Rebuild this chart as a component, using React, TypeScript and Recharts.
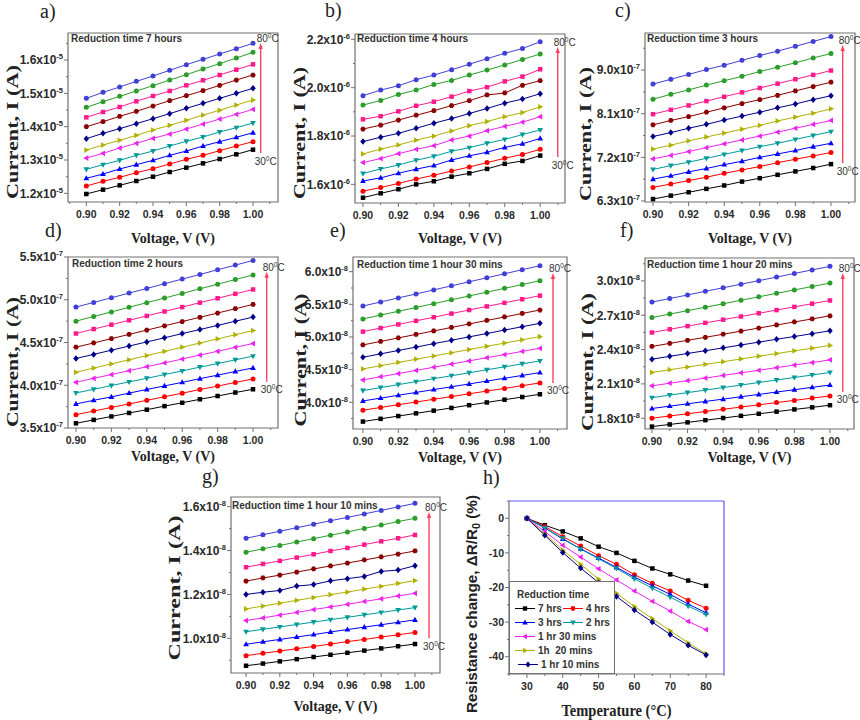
import { LineChart, Line, XAxis, YAxis, ReferenceArea, ReferenceLine, Legend } from 'recharts';

// shared axes of the I-V panels
const VOLTAGES = [0.9, 0.91, 0.92, 0.93, 0.94, 0.95, 0.96, 0.97, 0.98, 0.99, 1.0];
const TEMPS = [30, 35, 40, 45, 50, 55, 60, 65, 70, 75, 80];

// current mantissas, one row per temperature (30 -> 80 C)
const I_7H = [
  [1.198, 1.211, 1.224, 1.237, 1.250, 1.264, 1.277, 1.290, 1.303, 1.317, 1.331],
  [1.222, 1.236, 1.248, 1.262, 1.274, 1.288, 1.302, 1.314, 1.328, 1.342, 1.355],
  [1.245, 1.258, 1.273, 1.286, 1.299, 1.314, 1.327, 1.342, 1.355, 1.368, 1.382],
  [1.272, 1.286, 1.299, 1.314, 1.327, 1.342, 1.356, 1.369, 1.384, 1.397, 1.411],
  [1.306, 1.320, 1.336, 1.350, 1.365, 1.378, 1.393, 1.408, 1.423, 1.437, 1.452],
  [1.330, 1.345, 1.359, 1.374, 1.390, 1.404, 1.419, 1.435, 1.449, 1.465, 1.480],
  [1.364, 1.380, 1.394, 1.409, 1.424, 1.439, 1.455, 1.470, 1.485, 1.500, 1.515],
  [1.400, 1.415, 1.431, 1.446, 1.462, 1.478, 1.493, 1.508, 1.524, 1.540, 1.555],
  [1.428, 1.444, 1.459, 1.476, 1.492, 1.507, 1.524, 1.539, 1.555, 1.571, 1.587],
  [1.458, 1.475, 1.491, 1.507, 1.523, 1.540, 1.556, 1.573, 1.589, 1.606, 1.623],
  [1.485, 1.503, 1.519, 1.536, 1.552, 1.569, 1.586, 1.602, 1.618, 1.634, 1.650],
];
const I_4H = [
  [1.545, 1.563, 1.580, 1.600, 1.613, 1.632, 1.646, 1.664, 1.685, 1.697, 1.719],
  [1.572, 1.587, 1.604, 1.622, 1.638, 1.655, 1.672, 1.690, 1.708, 1.724, 1.745],
  [1.614, 1.627, 1.646, 1.663, 1.678, 1.701, 1.718, 1.733, 1.753, 1.768, 1.790],
  [1.645, 1.664, 1.680, 1.700, 1.716, 1.737, 1.752, 1.770, 1.786, 1.806, 1.825],
  [1.690, 1.707, 1.727, 1.745, 1.760, 1.784, 1.800, 1.822, 1.840, 1.857, 1.880],
  [1.726, 1.746, 1.763, 1.783, 1.800, 1.821, 1.843, 1.860, 1.880, 1.897, 1.921],
  [1.777, 1.795, 1.811, 1.832, 1.853, 1.872, 1.893, 1.914, 1.936, 1.953, 1.975],
  [1.829, 1.845, 1.866, 1.886, 1.905, 1.926, 1.946, 1.970, 1.978, 2.010, 2.029],
  [1.869, 1.882, 1.902, 1.925, 1.942, 1.963, 1.986, 2.002, 2.026, 2.046, 2.076],
  [1.928, 1.947, 1.972, 1.990, 2.013, 2.030, 2.052, 2.073, 2.094, 2.117, 2.139],
  [1.967, 1.990, 2.008, 2.033, 2.052, 2.074, 2.097, 2.120, 2.142, 2.162, 2.190],
];
const I_3H = [
  [6.34, 6.41, 6.48, 6.55, 6.62, 6.70, 6.77, 6.84, 6.91, 6.98, 7.06],
  [6.58, 6.65, 6.72, 6.79, 6.87, 6.94, 7.01, 7.09, 7.16, 7.23, 7.30],
  [6.75, 6.82, 6.90, 6.97, 7.05, 7.12, 7.20, 7.27, 7.34, 7.42, 7.49],
  [6.95, 7.03, 7.10, 7.18, 7.26, 7.34, 7.42, 7.49, 7.57, 7.65, 7.73],
  [7.17, 7.24, 7.32, 7.40, 7.48, 7.56, 7.64, 7.72, 7.80, 7.88, 7.96],
  [7.37, 7.45, 7.54, 7.62, 7.70, 7.78, 7.86, 7.95, 8.03, 8.11, 8.20],
  [7.63, 7.71, 7.80, 7.88, 7.97, 8.05, 8.13, 8.22, 8.30, 8.39, 8.47],
  [7.87, 7.96, 8.04, 8.13, 8.22, 8.31, 8.39, 8.48, 8.57, 8.66, 8.75],
  [8.09, 8.18, 8.27, 8.36, 8.45, 8.54, 8.63, 8.72, 8.81, 8.90, 8.99],
  [8.40, 8.50, 8.59, 8.69, 8.78, 8.87, 8.97, 9.06, 9.15, 9.25, 9.34],
  [8.71, 8.81, 8.91, 9.01, 9.10, 9.20, 9.30, 9.39, 9.49, 9.59, 9.69],
];
const I_2H = [
  [3.555, 3.595, 3.635, 3.676, 3.714, 3.756, 3.795, 3.836, 3.874, 3.915, 3.953],
  [3.656, 3.698, 3.741, 3.781, 3.824, 3.866, 3.907, 3.950, 3.990, 4.033, 4.074],
  [3.781, 3.824, 3.864, 3.908, 3.951, 3.992, 4.034, 4.077, 4.118, 4.161, 4.203],
  [3.910, 3.952, 3.997, 4.039, 4.081, 4.125, 4.168, 4.212, 4.253, 4.297, 4.340],
  [4.035, 4.081, 4.125, 4.171, 4.217, 4.261, 4.307, 4.353, 4.397, 4.443, 4.488],
  [4.152, 4.201, 4.250, 4.298, 4.347, 4.396, 4.445, 4.494, 4.542, 4.591, 4.640],
  [4.313, 4.361, 4.410, 4.458, 4.507, 4.555, 4.604, 4.652, 4.700, 4.749, 4.797],
  [4.445, 4.495, 4.545, 4.595, 4.645, 4.695, 4.745, 4.795, 4.845, 4.895, 4.945],
  [4.605, 4.657, 4.708, 4.760, 4.811, 4.863, 4.914, 4.966, 5.017, 5.069, 5.120],
  [4.750, 4.804, 4.858, 4.912, 4.966, 5.020, 5.074, 5.128, 5.182, 5.236, 5.290],
  [4.914, 4.969, 5.023, 5.078, 5.132, 5.187, 5.242, 5.296, 5.351, 5.405, 5.460],
];
const I_1H30 = [
  [3.704, 3.746, 3.788, 3.830, 3.871, 3.913, 3.955, 3.997, 4.039, 4.080, 4.122],
  [3.878, 3.920, 3.962, 4.003, 4.045, 4.087, 4.129, 4.171, 4.212, 4.254, 4.296],
  [4.020, 4.063, 4.107, 4.150, 4.194, 4.237, 4.280, 4.324, 4.367, 4.411, 4.454],
  [4.179, 4.224, 4.270, 4.315, 4.361, 4.406, 4.451, 4.497, 4.542, 4.588, 4.633],
  [4.342, 4.391, 4.439, 4.488, 4.536, 4.585, 4.633, 4.682, 4.730, 4.779, 4.827],
  [4.510, 4.560, 4.609, 4.659, 4.708, 4.758, 4.807, 4.857, 4.906, 4.956, 5.005],
  [4.689, 4.741, 4.793, 4.845, 4.897, 4.949, 5.001, 5.053, 5.105, 5.157, 5.209],
  [4.878, 4.932, 4.985, 5.039, 5.092, 5.146, 5.199, 5.253, 5.306, 5.360, 5.413],
  [5.082, 5.137, 5.192, 5.247, 5.302, 5.358, 5.413, 5.468, 5.523, 5.578, 5.633],
  [5.276, 5.335, 5.393, 5.452, 5.510, 5.569, 5.628, 5.686, 5.745, 5.803, 5.862],
  [5.474, 5.536, 5.598, 5.659, 5.721, 5.783, 5.845, 5.907, 5.968, 6.030, 6.092],
];
const I_1H20 = [
  [1.727, 1.746, 1.764, 1.783, 1.802, 1.821, 1.839, 1.858, 1.877, 1.895, 1.914],
  [1.800, 1.820, 1.839, 1.859, 1.878, 1.898, 1.917, 1.937, 1.956, 1.976, 1.995],
  [1.885, 1.906, 1.926, 1.947, 1.967, 1.988, 2.008, 2.029, 2.049, 2.070, 2.090],
  [1.980, 2.002, 2.024, 2.046, 2.068, 2.090, 2.112, 2.134, 2.156, 2.178, 2.200],
  [2.083, 2.106, 2.128, 2.151, 2.174, 2.197, 2.219, 2.242, 2.265, 2.287, 2.310],
  [2.200, 2.224, 2.247, 2.271, 2.294, 2.318, 2.342, 2.365, 2.389, 2.412, 2.436],
  [2.316, 2.341, 2.366, 2.390, 2.415, 2.440, 2.465, 2.490, 2.514, 2.539, 2.564],
  [2.427, 2.454, 2.481, 2.507, 2.534, 2.561, 2.588, 2.615, 2.641, 2.668, 2.695],
  [2.549, 2.577, 2.605, 2.633, 2.661, 2.689, 2.717, 2.745, 2.773, 2.801, 2.829],
  [2.680, 2.710, 2.740, 2.770, 2.800, 2.831, 2.861, 2.891, 2.921, 2.951, 2.981],
  [2.815, 2.846, 2.877, 2.909, 2.940, 2.971, 3.002, 3.033, 3.065, 3.096, 3.127],
];
const I_1H10 = [
  [0.875, 0.885, 0.895, 0.905, 0.915, 0.925, 0.934, 0.944, 0.954, 0.964, 0.974],
  [0.921, 0.932, 0.942, 0.953, 0.963, 0.974, 0.985, 0.995, 1.006, 1.016, 1.027],
  [0.973, 0.984, 0.995, 1.006, 1.017, 1.029, 1.040, 1.051, 1.062, 1.073, 1.084],
  [1.030, 1.041, 1.052, 1.063, 1.074, 1.085, 1.096, 1.107, 1.118, 1.129, 1.140],
  [1.081, 1.093, 1.106, 1.118, 1.131, 1.143, 1.155, 1.168, 1.180, 1.193, 1.205],
  [1.134, 1.147, 1.160, 1.173, 1.186, 1.199, 1.211, 1.224, 1.237, 1.250, 1.263],
  [1.200, 1.210, 1.218, 1.238, 1.245, 1.262, 1.272, 1.282, 1.305, 1.311, 1.331],
  [1.261, 1.275, 1.288, 1.302, 1.316, 1.330, 1.343, 1.357, 1.371, 1.384, 1.398],
  [1.324, 1.339, 1.353, 1.368, 1.383, 1.398, 1.412, 1.427, 1.442, 1.456, 1.471],
  [1.392, 1.408, 1.423, 1.439, 1.454, 1.470, 1.485, 1.501, 1.516, 1.532, 1.547],
  [1.456, 1.472, 1.488, 1.504, 1.520, 1.536, 1.551, 1.567, 1.583, 1.599, 1.615],
];

// panel h: resistance change (%) vs temperature
const R_TIMES = ['7 hrs', '4 hrs', '3 hrs', '2 hrs', '1 hr 30 mins', '1h  20 mins', '1 hr 10 mins'];
const R_7H = [0, -2.0, -3.8, -5.8, -8.2, -10.0, -12.3, -14.5, -16.2, -18.0, -19.5];
const R_4H = [0, -2.4, -5.3, -8.0, -10.8, -13.3, -16.3, -18.8, -21.0, -23.7, -26.0];
const R_3H = [0, -2.8, -6.0, -8.8, -11.5, -14.2, -17.0, -19.5, -22.0, -24.8, -27.3];
const R_2H = [0, -2.8, -5.8, -8.9, -11.7, -14.5, -17.5, -20.2, -22.8, -25.4, -27.8];
const R_1H30 = [0, -3.8, -7.8, -11.2, -14.6, -17.8, -21.0, -24.0, -26.8, -29.8, -32.2];
const R_1H20 = [0, -4.5, -9.2, -13.3, -17.6, -21.7, -25.5, -29.0, -32.5, -36.0, -39.2];
const R_1H10 = [0, -4.9, -9.9, -14.4, -18.6, -22.6, -26.5, -30.0, -33.6, -36.7, -39.5];
const R_SERIES = [R_7H, R_4H, R_3H, R_2H, R_1H30, R_1H20, R_1H10];

const COLORS = ['#000000', '#ff0000', '#0000ff', '#009a9a', '#ee22ee', '#b0b000', '#000088', '#8b0000', '#ff1a8c', '#2a9d2a', '#4040d8'];
const SHAPES = ['square', 'circle', 'up', 'down', 'left', 'right', 'diamond', 'hex', 'square', 'circle', 'circle'];
const AXIS = '#707070';
const ARROW = '#ff4060';
const SANS = '"Liberation Sans", Arial, sans-serif';
const SERIF = '"Liberation Serif", "Times New Roman", serif';

type Box = { x: number; y: number; w: number; h: number };
type IVConfig = {
  letter: string; title: string; exp: string; rows: number[][]; box: Box;
  xDomain: [number, number]; yDomain: [number, number]; yMajor: number[]; yMinor: number;
  arrow: { x: number; lo: number; hi: number };
  letterAt: [number, number]; yTitle: [number, number, number]; xTitleY: number; titleAt: [number, number];
};

const IV_PANELS: IVConfig[] = [
  { letter: 'a)', title: 'Reduction time 7 hours', exp: '-5', rows: I_7H, box: { x: 68, y: 33, w: 210, h: 169 },
    xDomain: [0.889, 1.015], yDomain: [1.174, 1.681], yMajor: [1.2, 1.3, 1.4, 1.5, 1.6], yMinor: 0.05,
    arrow: { x: 1.0046, lo: 1.321, hi: 1.651 }, letterAt: [40, 18], yTitle: [18, 132, 134], xTitleY: 243, titleAt: [71, 42] },
  { letter: 'b)', title: 'Reduction time 4 hours', exp: '-6', rows: I_4H, box: { x: 355, y: 34, w: 210, h: 169 },
    xDomain: [0.8955, 1.014], yDomain: [1.523, 2.222], yMajor: [1.6, 1.8, 2.0, 2.2], yMinor: 0.1,
    arrow: { x: 1.0099, lo: 1.713, hi: 2.168 }, letterAt: [325, 17], yTitle: [305, 133, 132], xTitleY: 243, titleAt: [357, 42] },
  { letter: 'c)', title: 'Reduction time 3 hours', exp: '-7', rows: I_3H, box: { x: 645, y: 33, w: 210, h: 169 },
    xDomain: [0.8955, 1.0135], yDomain: [6.279, 9.764], yMajor: [6.3, 7.2, 8.1, 9.0], yMinor: 0.45,
    arrow: { x: 1.0066, lo: 7.083, hi: 9.516 }, letterAt: [615, 17], yTitle: [591, 134, 134], xTitleY: 243, titleAt: [647, 42] },
  { letter: 'd)', title: 'Reduction time 2 hours', exp: '-7', rows: I_2H, box: { x: 68, y: 257, w: 210, h: 171 },
    xDomain: [0.8955, 1.0141], yDomain: [3.5, 5.5], yMajor: [3.5, 4.0, 4.5, 5.0, 5.5], yMinor: 0.25,
    arrow: { x: 1.0077, lo: 4.04, hi: 5.328 }, letterAt: [45, 237], yTitle: [18, 362, 130], xTitleY: 461, titleAt: [72, 267] },
  { letter: 'e)', title: 'Reduction time 1 hour 30 mins', exp: '-8', rows: I_1H30, box: { x: 353, y: 257, w: 214, h: 172 },
    xDomain: [0.8944, 1.0153], yDomain: [3.59, 6.225], yMajor: [4.0, 4.5, 5.0, 5.5, 6.0], yMinor: 0.25,
    arrow: { x: 1.0074, lo: 4.296, hi: 5.98 }, letterAt: [330, 237], yTitle: [306, 360, 133], xTitleY: 462, titleAt: [357, 268] },
  { letter: 'f)', title: 'Reduction time 1 hour 20 mins', exp: '-8', rows: I_1H20, box: { x: 645, y: 258, w: 209, h: 171 },
    xDomain: [0.8961, 1.0135], yDomain: [1.706, 3.2], yMajor: [1.8, 2.1, 2.4, 2.7, 3.0], yMinor: 0.15,
    arrow: { x: 1.0072, lo: 2.03, hi: 3.07 }, letterAt: [620, 237], yTitle: [593, 362, 138], xTitleY: 462, titleAt: [647, 268] },
  { letter: 'g)', title: 'Reduction time 1 hour 10 mins', exp: '-8', rows: I_1H10, box: { x: 231, y: 497, w: 209, h: 176 },
    xDomain: [0.8911, 1.0148], yDomain: [0.842, 1.644], yMajor: [1.0, 1.2, 1.4, 1.6], yMinor: 0.1,
    arrow: { x: 1.0083, lo: 1.0, hi: 1.576 }, letterAt: [202, 483], yTitle: [180, 588, 145], xTitleY: 711, titleAt: [232, 509] },
];

const H_BOX: Box = { x: 509, y: 501, w: 215, h: 173 };

function steps(domain: [number, number], step: number) {
  const out: number[] = [];
  for (let i = Math.ceil(domain[0] / step - 1e-9); i * step <= domain[1] + 1e-9; i++) {
    out.push(Math.round(i * step * 1e4) / 1e4);
  }
  return out;
}

function Marker({ cx, cy, shape, color, r = 2.5 }: any) {
  if (cx == null || cy == null) return null;
  const pts = (arr: number[][]) => arr.map(([dx, dy]) => `${cx + dx * r},${cy + dy * r}`).join(' ');
  switch (shape) {
    case 'square':
      return <rect x={cx - r * 0.9} y={cy - r * 0.9} width={r * 1.8} height={r * 1.8} fill={color} />;
    case 'up':
      return <polygon points={pts([[0, -1.25], [-1.15, 0.8], [1.15, 0.8]])} fill={color} />;
    case 'down':
      return <polygon points={pts([[0, 1.25], [-1.15, -0.8], [1.15, -0.8]])} fill={color} />;
    case 'left':
      return <polygon points={pts([[-1.25, 0], [0.8, -1.15], [0.8, 1.15]])} fill={color} />;
    case 'right':
      return <polygon points={pts([[1.25, 0], [-0.8, -1.15], [-0.8, 1.15]])} fill={color} />;
    case 'diamond':
      return <polygon points={pts([[0, -1.3], [1.1, 0], [0, 1.3], [-1.1, 0]])} fill={color} />;
    case 'hex':
      return <polygon points={pts([[-1.1, 0], [-0.55, -0.95], [0.55, -0.95], [1.1, 0], [0.55, 0.95], [-0.55, 0.95]])} fill={color} />;
    default:
      return <circle cx={cx} cy={cy} r={r} fill={color} />;
  }
}

function YTick({ x, y, payload, exp, major, size = 12 }: any) {
  const v = payload.value;
  const isMajor = major(v);
  return (
    <g>
      <line x1={x + (isMajor ? 2 : 4)} x2={x + 6} y1={y} y2={y} stroke={AXIS} />
      {isMajor && (
        <text x={x + 1} y={y + size * 0.36} textAnchor="end" fontFamily={SANS} fontWeight="bold" fontSize={size} fill="#2a2a2a">
          {exp ? v.toFixed(1) + 'x10' : String(v)}
          {exp && <tspan dy={-5} fontSize={7.5}>{exp}</tspan>}
        </text>
      )}
    </g>
  );
}

function XTick({ x, y, payload, major, digits }: any) {
  const v = payload.value;
  const isMajor = major(v);
  return (
    <g>
      <line x1={x} x2={x} y1={y - 6} y2={y - (isMajor ? 2 : 4)} stroke={AXIS} />
      {isMajor && (
        <text x={x} y={y + 10} textAnchor="middle" fontFamily={SANS} fontWeight="bold" fontSize={10.5} fill="#2a2a2a">
          {v.toFixed(digits)}
        </text>
      )}
    </g>
  );
}

function TempArrow({ x1, y1, y2 }: any) {
  const top = Math.min(y1, y2);
  const bot = Math.max(y1, y2);
  const label = (t: string, x: number, y: number) => (
    <text x={x} y={y} fontFamily={SANS} fontSize={10} fill="#333">
      {t}<tspan dy={-4} fontSize={6.5}>0</tspan><tspan dy={4}>C</tspan>
    </text>
  );
  return (
    <g>
      <line x1={x1} x2={x1} y1={bot} y2={top + 4} stroke={ARROW} strokeWidth={1.4} />
      <polygon points={`${x1},${top} ${x1 - 2.2},${top + 6} ${x1 + 2.2},${top + 6}`} fill={ARROW} />
      {label('80', x1 - 4, top - 1)}
      {label('30', x1 - 6, bot + 11.5)}
    </g>
  );
}

const L = 70, T = 10, R = 14, B = 30;

function IVPanel({ p }: { p: IVConfig }) {
  const table = VOLTAGES.map((v, i) => {
    const row: Record<string, number> = { v };
    p.rows.forEach((r, k) => { row[`t${TEMPS[k]}`] = r[i]; });
    return row;
  });
  const xTicks = steps(p.xDomain, 0.01);
  const yTicks = steps(p.yDomain, p.yMinor);
  const majorY = (v: number) => p.yMajor.some((m) => Math.abs(m - v) < 1e-6);
  const majorX = (v: number) => Math.round(v * 100) % 2 === 0 && v >= 0.9 - 1e-9 && v <= 1.0 + 1e-9;
  return (
    <div style={{ position: 'absolute', left: p.box.x - L, top: p.box.y - T }}>
      <LineChart width={p.box.w + L + R} height={p.box.h + T + B} data={table} margin={{ top: T, right: R, left: 0, bottom: 0 }}>
        <XAxis type="number" dataKey="v" domain={p.xDomain} ticks={xTicks} interval={0} height={B} tickSize={4} tickMargin={2}
          tickLine={false} axisLine={false} allowDataOverflow tick={(t: any) => <XTick {...t} major={majorX} digits={2} />} />
        <YAxis type="number" domain={p.yDomain} ticks={yTicks} interval={0} width={L} tickSize={4} tickMargin={2}
          tickLine={false} axisLine={false} allowDataOverflow tick={(t: any) => <YTick {...t} major={majorY} exp={p.exp} />} />
        <ReferenceArea x1={p.xDomain[0]} x2={p.xDomain[1]} y1={p.yDomain[0]} y2={p.yDomain[1]} fill="none" stroke={AXIS} strokeWidth={1.2} fillOpacity={0} />
        {TEMPS.map((t, k) => (
          <Line key={t} dataKey={`t${t}`} stroke={COLORS[k]} strokeWidth={1} isAnimationActive={false}
            dot={(d: any) => <Marker key={d.index} cx={d.cx} cy={d.cy} shape={SHAPES[k]} color={COLORS[k]} />} />
        ))}
        <ReferenceLine segment={[{ x: p.arrow.x, y: p.arrow.lo }, { x: p.arrow.x, y: p.arrow.hi }]} stroke={ARROW}
          shape={(s: any) => <TempArrow {...s} />} />
      </LineChart>
    </div>
  );
}

function HLegend({ payload }: any) {
  const items = payload ?? [];
  // [series index, x, baseline] inside the legend box
  const layout: [number, number, number][] = [
    [0, 6, 31], [1, 54, 31], [2, 6, 45], [3, 54, 45], [4, 6, 59], [5, 6, 73], [6, 9, 87],
  ];
  return (
    <svg width={106} height={93} style={{ display: 'block' }}>
      <rect x={0.5} y={0.5} width={105} height={92} fill="#fff" stroke={AXIS} />
      <text x={8} y={17} fontFamily={SANS} fontWeight="bold" fontSize={10} fill="#333">Reduction time</text>
      {layout.map(([k, x, y]) => {
        const it = items.find((e: any) => e.dataKey === `s${k}`);
        const name = it ? it.value : R_TIMES[k];
        return (
          <g key={k}>
            <line x1={x} x2={x + 20} y1={y - 3.5} y2={y - 3.5} stroke={COLORS[k]} strokeWidth={1} />
            <Marker cx={x + 10} cy={y - 3.5} shape={SHAPES[k]} color={COLORS[k]} r={2.4} />
            <text x={x + 23} y={y} fontFamily={SANS} fontWeight="bold" fontSize={10} fill="#333" style={{ whiteSpace: 'pre' }}>
              {name}
            </text>
          </g>
        );
      })}
    </svg>
  );
}

function ResistancePanel() {
  const table = TEMPS.map((t, i) => {
    const row: Record<string, number> = { t };
    R_SERIES.forEach((s, k) => { row[`s${k}`] = s[i]; });
    return row;
  });
  const xDomain: [number, number] = [25, 85];
  const yDomain: [number, number] = [-45, 5];
  const majorX = (v: number) => v % 10 === 0;
  const majorY = (v: number) => v % 10 === 0;
  return (
    <div style={{ position: 'absolute', left: H_BOX.x - L, top: H_BOX.y - T }}>
      <LineChart width={H_BOX.w + L + R} height={H_BOX.h + T + B} data={table} margin={{ top: T, right: R, left: 0, bottom: 0 }}>
        <XAxis type="number" dataKey="t" domain={xDomain} ticks={steps(xDomain, 5)} interval={0} height={B} tickSize={4} tickMargin={2}
          tickLine={false} axisLine={{ stroke: AXIS, strokeWidth: 1.2 }} allowDataOverflow
          tick={(t: any) => <XTick {...t} major={majorX} digits={0} />} />
        <YAxis type="number" domain={yDomain} ticks={steps(yDomain, 5)} interval={0} width={L} tickSize={4} tickMargin={2}
          tickLine={false} axisLine={{ stroke: AXIS, strokeWidth: 1.2 }} allowDataOverflow
          tick={(t: any) => <YTick {...t} major={majorY} exp="" size={10.5} />} />
        <ReferenceLine y={5} stroke="#5a5af0" strokeWidth={1.2} />
        <ReferenceLine x={85} stroke="#5a5af0" strokeWidth={1.2} />
        {R_SERIES.map((_, k) => (
          <Line key={k} dataKey={`s${k}`} name={R_TIMES[k]} stroke={COLORS[k]} strokeWidth={1} isAnimationActive={false}
            dot={(d: any) => <Marker key={d.index} cx={d.cx} cy={d.cy} shape={SHAPES[k]} color={COLORS[k]} />} />
        ))}
        <Legend layout="horizontal" verticalAlign="middle" align="center" content={(lp: any) => <HLegend {...lp} />}
          wrapperStyle={{ position: 'absolute', left: L, top: 581 - H_BOX.y + T, width: 106, height: 93 }} />
      </LineChart>
    </div>
  );
}

function Annotations() {
  return (
    <svg width={860} height={720} style={{ position: 'absolute', left: 0, top: 0, pointerEvents: 'none' }}>
      {IV_PANELS.map((p) => (
        <g key={p.letter}>
          <text x={p.letterAt[0]} y={p.letterAt[1]} fontFamily={SERIF} fontSize={20} fill="#222">{p.letter}</text>
          <text x={p.titleAt[0]} y={p.titleAt[1]} fontFamily={SANS} fontWeight="bold" fontSize={10} fill="#333">{p.title}</text>
          <text transform={`translate(${p.box.x + p.box.w / 2},${p.xTitleY}) scale(1,1.1)`} textAnchor="middle"
            fontFamily={SERIF} fontWeight="bold" fontSize={14} fill="#222">Voltage, V (V)</text>
          <text transform={`translate(${p.yTitle[0]},${p.yTitle[1]}) rotate(-90)`} textAnchor="middle" textLength={p.yTitle[2]}
            lengthAdjust="spacingAndGlyphs" fontFamily={SERIF} fontWeight="bold" fontSize={17} fill="#222">Current, I (A)</text>
        </g>
      ))}
      <text x={483} y={484} fontFamily={SERIF} fontSize={20} fill="#222">h)</text>
      <text transform={`translate(${H_BOX.x + H_BOX.w / 2},716) scale(1,1.1)`} textAnchor="middle"
        fontFamily={SERIF} fontWeight="bold" fontSize={14.5} fill="#222">Temperature (°C)</text>
      <text transform="translate(477,604) rotate(-90)" textAnchor="middle" textLength={218} lengthAdjust="spacingAndGlyphs"
        fontFamily={SANS} fontWeight="bold" fontSize={14} fill="#222">
        Resistance change, ΔR/R<tspan dy={3} fontSize={10}>0</tspan><tspan dy={-3}> (%)</tspan>
      </text>
    </svg>
  );
}

export default function App() {
  return (
    <div style={{ position: 'absolute', left: 0, top: 0, width: 860, height: 720, overflow: 'hidden', background: '#fff' }}>
      {IV_PANELS.map((p) => <IVPanel key={p.letter} p={p} />)}
      <ResistancePanel />
      <Annotations />
    </div>
  );
}
